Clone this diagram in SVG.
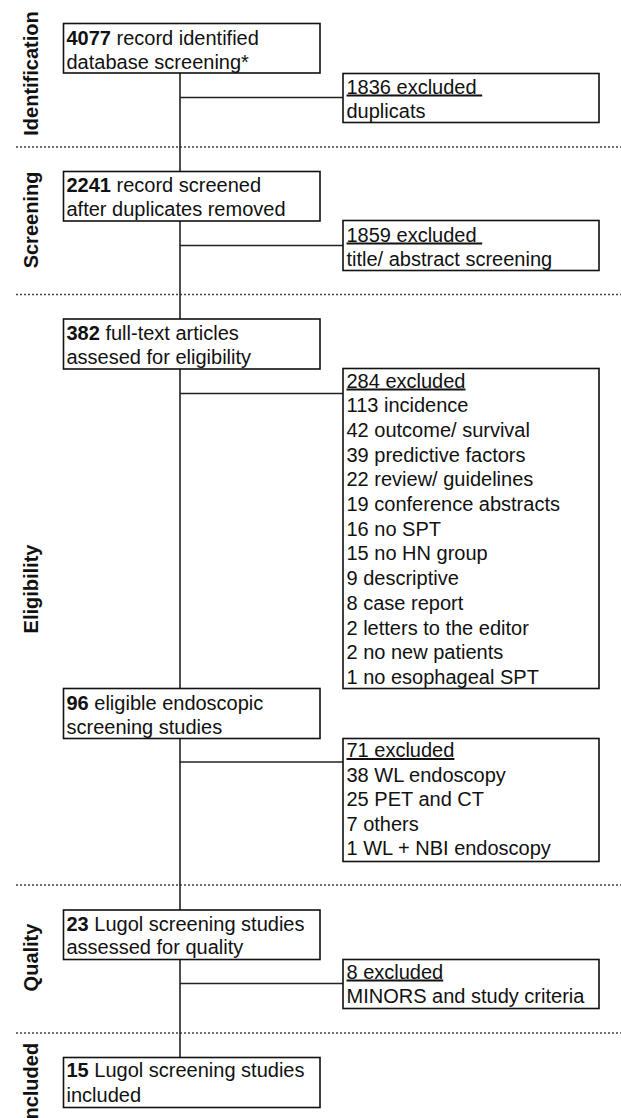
<svg xmlns="http://www.w3.org/2000/svg" width="621" height="1118" viewBox="0 0 621 1118">
<style>
text{font-family:"Liberation Sans",Arial,sans-serif;font-size:20px;fill:#111}
.lbl{font-weight:bold;text-anchor:middle}
.b{font-weight:bold}
.u{text-decoration:underline}
.box{fill:#fff;stroke:#111;stroke-width:1.6}
.con line{stroke:#222;stroke-width:1.6}
.div line{stroke:#444;stroke-width:1.6;stroke-dasharray:2 2}
</style>
<rect width="621" height="1118" fill="#fff"/>
<g class="div">
<line x1="16" y1="147" x2="621" y2="147"/>
<line x1="16" y1="294.5" x2="621" y2="294.5"/>
<line x1="16" y1="885" x2="621" y2="885"/>
<line x1="16" y1="1033" x2="621" y2="1033"/>
</g>
<g id="labels">
<text class="lbl" transform="translate(38,73.5) rotate(-90)">Identification</text>
<text class="lbl" transform="translate(38,220) rotate(-90)">Screening</text>
<text class="lbl" transform="translate(38,589) rotate(-90)">Eligibility</text>
<text class="lbl" transform="translate(38,957.5) rotate(-90)">Quality</text>
<text class="lbl" transform="translate(38,1084) rotate(-90)">Included</text>
</g>
<g class="con">
<line x1="180" y1="73" x2="180" y2="1057"/>
<line x1="180" y1="97.5" x2="343" y2="97.5"/>
<line x1="180" y1="245.5" x2="343" y2="245.5"/>
<line x1="180" y1="393.5" x2="343" y2="393.5"/>
<line x1="180" y1="762" x2="343" y2="762"/>
<line x1="180" y1="983.5" x2="343" y2="983.5"/>
</g>
<g id="n1">
<rect class="box" x="63.5" y="23.5" width="256.5" height="49.5"/>
<text x="66.5" y="44.5"><tspan class="b">4077</tspan> record identified</text>
<text x="66.5" y="68.5">database screening*</text>
</g>
<g id="x1">
<rect class="box" x="343" y="73.5" width="256" height="49"/>
<text x="346.5" y="93.5" xml:space="preserve" style="white-space:pre"><tspan class="u">1836 excluded </tspan></text>
<text x="346.5" y="117.5">duplicats</text>
</g>
<g id="n2">
<rect class="box" x="63.5" y="171.5" width="256.5" height="49.5"/>
<text x="66.5" y="192"><tspan class="b">2241</tspan> record screened</text>
<text x="66.5" y="215.5">after duplicates removed</text>
</g>
<g id="x2">
<rect class="box" x="343" y="220.5" width="256" height="50"/>
<text x="346.5" y="241.5" xml:space="preserve" style="white-space:pre"><tspan class="u">1859 excluded </tspan></text>
<text x="346.5" y="265.5">title/ abstract screening</text>
</g>
<g id="n3">
<rect class="box" x="63.5" y="319" width="256.5" height="50"/>
<text x="66.5" y="340"><tspan class="b">382</tspan> full-text articles</text>
<text x="66.5" y="364">assesed for eligibility</text>
</g>
<g id="x3">
<rect class="box" x="343" y="368.5" width="256" height="320"/>
<text x="346.5" y="387.5"><tspan class="u">284 excluded</tspan></text>
<text x="346.5" y="412.2">113 incidence</text>
<text x="346.5" y="436.9">42 outcome/ survival</text>
<text x="346.5" y="461.6">39 predictive factors</text>
<text x="346.5" y="486.3">22 review/ guidelines</text>
<text x="346.5" y="511">19 conference abstracts</text>
<text x="346.5" y="535.7">16 no SPT</text>
<text x="346.5" y="560.4">15 no HN group</text>
<text x="346.5" y="585.1">9 descriptive</text>
<text x="346.5" y="609.8">8 case report</text>
<text x="346.5" y="634.5">2 letters to the editor</text>
<text x="346.5" y="659.2">2 no new patients</text>
<text x="346.5" y="683.9">1 no esophageal SPT</text>
</g>
<g id="n4">
<rect class="box" x="63.5" y="688.5" width="256.5" height="50"/>
<text x="66.5" y="710"><tspan class="b">96</tspan> eligible endoscopic</text>
<text x="66.5" y="733.5">screening studies</text>
</g>
<g id="x4">
<rect class="box" x="343" y="738.5" width="256" height="123"/>
<text x="346.5" y="757"><tspan class="u">71 excluded</tspan></text>
<text x="346.5" y="781.5">38 WL endoscopy</text>
<text x="346.5" y="806">25 PET and CT</text>
<text x="346.5" y="830.5">7 others</text>
<text x="346.5" y="855">1 WL + NBI endoscopy</text>
</g>
<g id="n5">
<rect class="box" x="63.5" y="910" width="256.5" height="49.5"/>
<text x="66.5" y="930.5"><tspan class="b">23</tspan> Lugol screening studies</text>
<text x="66.5" y="954">assessed for quality</text>
</g>
<g id="x5">
<rect class="box" x="343" y="959.5" width="256" height="49"/>
<text x="346.5" y="978.5"><tspan class="u">8 excluded</tspan></text>
<text x="346.5" y="1003">MINORS and study criteria</text>
</g>
<g id="n6">
<rect class="box" x="63.5" y="1057.5" width="256.5" height="50"/>
<text x="66.5" y="1077"><tspan class="b">15</tspan> Lugol screening studies</text>
<text x="66.5" y="1101.5">included</text>
</g>
</svg>
